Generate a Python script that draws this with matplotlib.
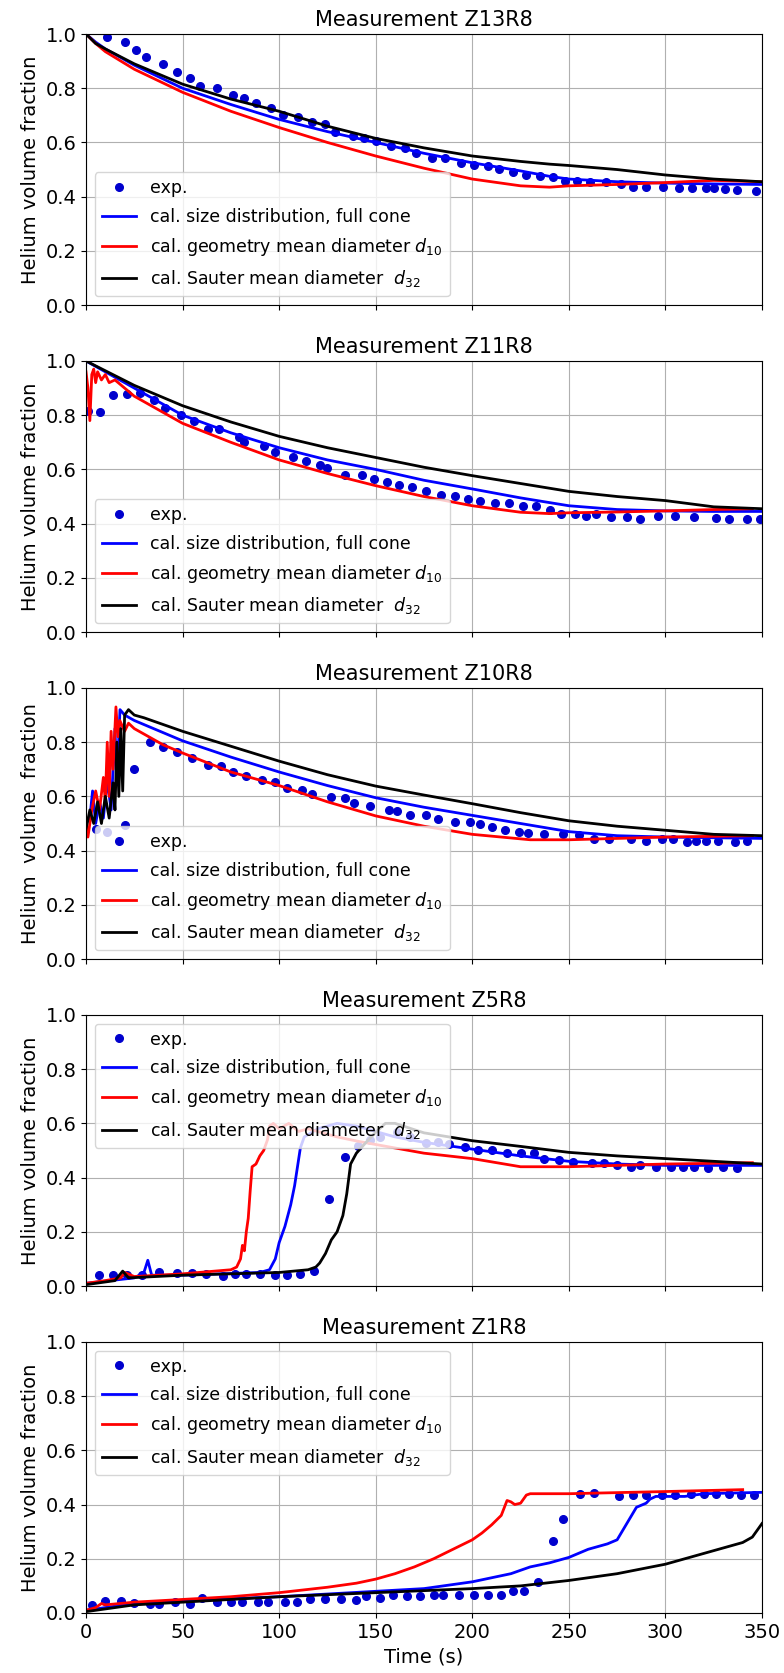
import numpy as np
import matplotlib
matplotlib.use("Agg")
import matplotlib.pyplot as plt

titles = ["Measurement Z13R8", "Measurement Z11R8", "Measurement Z10R8",
          "Measurement Z5R8", "Measurement Z1R8"]
ylabels = ["Helium volume fraction", "Helium volume fraction", "Helium  volume  fraction",
           "Helium volume fraction", "Helium volume fraction"]
legend_locs = ["lower left", "lower left", "lower left", "upper left", "upper left"]

# ---- Z13R8 ----
exp1_t = [11, 20, 26, 31, 40, 47, 54, 59, 68, 76, 82, 88, 96, 102, 110, 117, 124, 129, 138, 144,
          150, 158, 165, 171, 179, 186, 194, 201, 208, 214, 221, 228, 235, 242, 248, 254, 261, 269,
          277, 283, 290, 299, 307, 314, 321, 325, 331, 337, 347]
exp1_y = [0.99, 0.97, 0.94, 0.915, 0.89, 0.86, 0.836, 0.81, 0.80, 0.775, 0.765, 0.747, 0.728, 0.70,
          0.694, 0.677, 0.667, 0.64, 0.624, 0.618, 0.606, 0.588, 0.579, 0.56, 0.541, 0.541, 0.526,
          0.518, 0.514, 0.502, 0.49, 0.48, 0.477, 0.471, 0.459, 0.457, 0.455, 0.455, 0.447, 0.437,
          0.435, 0.437, 0.432, 0.432, 0.431, 0.431, 0.428, 0.426, 0.422]
t_cal1 = [0, 5, 10, 25, 50, 75, 100, 125, 150, 175, 200, 225, 240, 250, 275, 300, 325, 350]
blue1 = [1.0, 0.97, 0.945, 0.885, 0.80, 0.74, 0.685, 0.64, 0.60, 0.56, 0.525, 0.495, 0.475, 0.465,
         0.455, 0.45, 0.447, 0.445]
red1 = [1.0, 0.965, 0.935, 0.87, 0.785, 0.715, 0.655, 0.60, 0.55, 0.505, 0.465, 0.44, 0.435, 0.44,
        0.445, 0.452, 0.46, 0.455]
black1 = [1.0, 0.965, 0.945, 0.89, 0.815, 0.76, 0.715, 0.66, 0.615, 0.58, 0.55, 0.53, 0.52, 0.515,
          0.5, 0.48, 0.465, 0.455]

# ---- Z11R8 ----
exp2_t = [1, 7, 14, 21, 28, 35, 41, 49, 56, 63, 69, 79, 82, 92, 98, 107, 114, 121, 125, 134,
          143, 149, 156, 162, 169, 176, 184, 191, 198, 204, 212, 219, 226, 233, 240, 246, 253, 259,
          264, 272, 280, 287, 296, 305, 315, 326, 333, 342, 349]
exp2_y = [0.816, 0.81, 0.874, 0.88, 0.883, 0.855, 0.826, 0.80, 0.777, 0.748, 0.748, 0.718, 0.70,
          0.687, 0.663, 0.647, 0.632, 0.616, 0.604, 0.58, 0.579, 0.564, 0.552, 0.544, 0.534, 0.519,
          0.507, 0.503, 0.491, 0.482, 0.475, 0.475, 0.464, 0.464, 0.45, 0.436, 0.436, 0.43, 0.436,
          0.423, 0.423, 0.417, 0.427, 0.43, 0.423, 0.421, 0.417, 0.417, 0.417]
t_red2 = [0, 1, 2, 3, 4, 5, 6, 8, 10, 12, 15, 25, 50, 75, 100, 125, 150, 175, 200, 225, 240, 250,
          275, 300, 325, 345]
red2 = [0.96, 0.90, 0.78, 0.95, 0.97, 0.92, 0.96, 0.93, 0.95, 0.92, 0.93, 0.87, 0.77, 0.70, 0.635,
        0.585, 0.54, 0.50, 0.466, 0.442, 0.437, 0.44, 0.443, 0.447, 0.452, 0.455]
t_cal2 = [0, 25, 50, 75, 100, 125, 150, 175, 200, 225, 250, 275, 300, 325, 350]
blue2 = [1.0, 0.90, 0.80, 0.735, 0.68, 0.635, 0.60, 0.56, 0.528, 0.495, 0.466, 0.452, 0.447,
         0.445, 0.445]
black2 = [1.0, 0.91, 0.835, 0.775, 0.722, 0.68, 0.644, 0.608, 0.577, 0.548, 0.519, 0.50, 0.485,
          0.462, 0.455]

# ---- Z10R8 ----
exp3_t = [5, 11, 20, 25, 33, 40, 47, 55, 63, 70, 76, 83, 91, 98, 104, 112, 117, 127, 134, 139,
          147, 157, 161, 168, 176, 182, 191, 199, 204, 210, 217, 224, 229, 237, 247, 255, 263, 271,
          282, 290, 298, 304, 311, 316, 321, 327, 336, 342]
exp3_y = [0.48, 0.47, 0.494, 0.70, 0.80, 0.783, 0.764, 0.74, 0.714, 0.712, 0.69, 0.675, 0.66,
          0.653, 0.632, 0.622, 0.61, 0.599, 0.593, 0.577, 0.564, 0.548, 0.546, 0.531, 0.53, 0.515,
          0.507, 0.507, 0.50, 0.487, 0.476, 0.47, 0.466, 0.463, 0.46, 0.456, 0.442, 0.442, 0.442,
          0.436, 0.442, 0.442, 0.432, 0.436, 0.436, 0.436, 0.432, 0.436]
t_red3 = [0, 1, 3, 5, 7, 9, 10, 11, 12, 13, 14, 15.5, 16.5, 17.5, 20, 22, 25, 30, 40, 50, 75, 100,
          125, 150, 175, 200, 230, 250, 275, 300, 345]
red3 = [0.5, 0.45, 0.55, 0.62, 0.55, 0.67, 0.58, 0.80, 0.60, 0.84, 0.70, 0.93, 0.82, 0.88, 0.84,
        0.87, 0.85, 0.83, 0.79, 0.76, 0.69, 0.64, 0.58, 0.528, 0.49, 0.46, 0.44, 0.44, 0.445, 0.45,
        0.455]
t_blue3 = [0, 2, 3.4, 5, 7, 9, 11, 13, 15, 16, 17.6, 20, 25, 50, 75, 100, 125, 150, 175, 200, 225,
           250, 275, 300, 350]
blue3 = [0.5, 0.52, 0.62, 0.50, 0.58, 0.52, 0.66, 0.55, 0.85, 0.65, 0.92, 0.90, 0.88, 0.805, 0.745,
         0.69, 0.64, 0.595, 0.56, 0.53, 0.50, 0.47, 0.455, 0.45, 0.445]
t_black3 = [0, 2, 4, 6, 8, 10, 12, 14, 15, 16, 17, 18, 19, 20, 22, 25, 30, 50, 75, 100, 125, 150,
            175, 200, 225, 250, 275, 300, 325, 350]
black3 = [0.48, 0.55, 0.50, 0.58, 0.50, 0.60, 0.52, 0.65, 0.55, 0.80, 0.60, 0.85, 0.62, 0.90, 0.92,
          0.90, 0.89, 0.84, 0.785, 0.73, 0.68, 0.638, 0.605, 0.573, 0.54, 0.51, 0.49, 0.475, 0.46,
          0.455]

# ---- Z5R8 ----
exp4_t = [6.5, 14, 21, 29, 38, 47, 55, 62, 71, 77, 83, 90, 98, 104, 111, 118, 126, 134, 141, 147,
          152, 161, 168, 176, 182, 188, 196, 203, 210, 218, 225, 232, 237, 245, 252, 262, 268, 275,
          282, 287, 295, 303, 309, 315, 322, 330, 337]
exp4_y = [0.04, 0.04, 0.04, 0.04, 0.053, 0.047, 0.049, 0.043, 0.037, 0.043, 0.043, 0.045, 0.04,
          0.039, 0.045, 0.055, 0.32, 0.475, 0.518, 0.539, 0.55, 0.567, 0.55, 0.526, 0.53, 0.524,
          0.514, 0.502, 0.502, 0.49, 0.49, 0.49, 0.469, 0.465, 0.457, 0.455, 0.453, 0.447, 0.44,
          0.447, 0.44, 0.44, 0.438, 0.438, 0.437, 0.44, 0.437]
t_red4 = [0, 10, 18, 20, 25, 50, 75, 78, 80, 81, 82, 83, 84, 85, 86, 88, 90, 92, 94, 95, 97, 100,
          105, 110, 115, 120, 125, 130, 140, 150, 175, 200, 225, 250, 300, 345]
red4 = [0.01, 0.02, 0.03, 0.05, 0.035, 0.045, 0.06, 0.07, 0.10, 0.15, 0.13, 0.2, 0.25, 0.35, 0.44,
        0.45, 0.48, 0.50, 0.54, 0.59, 0.60, 0.58, 0.60, 0.57, 0.58, 0.57, 0.56, 0.55, 0.535, 0.522,
        0.49, 0.47, 0.44, 0.44, 0.45, 0.455]
t_blue4 = [0, 25, 30, 32, 34, 50, 90, 95, 98, 100, 103, 106, 108, 111, 113, 120, 130, 140, 150, 160,
           175, 200, 225, 250, 275, 300, 350]
blue4 = [0.01, 0.03, 0.05, 0.095, 0.04, 0.04, 0.05, 0.06, 0.1, 0.16, 0.22, 0.3, 0.37, 0.51, 0.55,
         0.58, 0.6, 0.59, 0.57, 0.55, 0.53, 0.505, 0.48, 0.46, 0.45, 0.445, 0.445]
t_black4 = [0, 15, 19, 22, 50, 100, 115, 119, 121, 124, 127, 130, 133, 135, 137, 140, 145, 149,
            155, 160, 175, 200, 225, 250, 275, 300, 325, 350]
black4 = [0.005, 0.02, 0.055, 0.03, 0.04, 0.05, 0.06, 0.07, 0.085, 0.12, 0.17, 0.2, 0.26, 0.34,
          0.45, 0.49, 0.53, 0.56, 0.6, 0.6, 0.565, 0.536, 0.515, 0.493, 0.48, 0.47, 0.46, 0.45]

# ---- Z1R8 ----
exp5_t = [3, 10, 18, 25, 33, 38, 46, 54, 60, 68, 75, 81, 89, 94, 103, 109, 116, 124, 132, 140,
          145, 152, 159, 166, 173, 180, 185, 193, 201, 208, 215, 221, 227, 234, 242, 247, 256, 263,
          276, 283, 290, 298, 305, 313, 320, 326, 333, 339, 346]
exp5_y = [0.028, 0.045, 0.045, 0.037, 0.034, 0.034, 0.039, 0.033, 0.055, 0.039, 0.039, 0.039,
          0.039, 0.039, 0.039, 0.039, 0.051, 0.051, 0.051, 0.049, 0.061, 0.055, 0.067, 0.061, 0.064,
          0.067, 0.067, 0.067, 0.067, 0.067, 0.067, 0.08, 0.08, 0.116, 0.267, 0.345, 0.44, 0.444,
          0.432, 0.435, 0.435, 0.435, 0.435, 0.438, 0.44, 0.44, 0.44, 0.435, 0.435]
t_red5 = [0, 5, 8, 10, 25, 50, 75, 100, 125, 140, 150, 160, 170, 180, 190, 200, 205, 210, 215, 218,
          220, 222, 225, 228, 230, 250, 300, 340]
red5 = [0.01, 0.02, 0.035, 0.03, 0.04, 0.05, 0.06, 0.075, 0.095, 0.11, 0.125, 0.145, 0.17, 0.2,
        0.235, 0.27, 0.295, 0.325, 0.36, 0.415, 0.41, 0.4, 0.405, 0.435, 0.44, 0.44, 0.448, 0.455]
t_blue5 = [0, 25, 50, 100, 150, 175, 200, 210, 220, 230, 240, 250, 260, 270, 275, 280, 285, 290,
           292, 295, 300, 310, 320, 350]
blue5 = [0.01, 0.035, 0.045, 0.06, 0.08, 0.09, 0.115, 0.13, 0.145, 0.17, 0.185, 0.205, 0.235, 0.255,
         0.27, 0.33, 0.39, 0.405, 0.42, 0.43, 0.43, 0.43, 0.44, 0.445]
t_black5 = [0, 25, 50, 100, 150, 200, 225, 250, 275, 300, 320, 340, 345, 350]
black5 = [0.005, 0.03, 0.04, 0.06, 0.075, 0.09, 0.1, 0.12, 0.145, 0.18, 0.22, 0.26, 0.28, 0.33]

panels = [
    (exp1_t, exp1_y, t_cal1, blue1, t_cal1, red1, t_cal1, black1),
    (exp2_t, exp2_y, t_cal2, blue2, t_red2, red2, t_cal2, black2),
    (exp3_t, exp3_y, t_blue3, blue3, t_red3, red3, t_black3, black3),
    (exp4_t, exp4_y, t_blue4, blue4, t_red4, red4, t_black4, black4),
    (exp5_t, exp5_y, t_blue5, blue5, t_red5, red5, t_black5, black5),
]

fig, axes = plt.subplots(5, 1, figsize=(7.84, 16.73), dpi=100, sharex=True)
plt.subplots_adjust(left=86/784, right=762/784, top=1-34/1673, bottom=1-1613/1673, hspace=0.206)

for i, ax in enumerate(axes):
    et, ey, tb, yb, tr, yr, tk, yk = panels[i]
    ax.plot(et, ey, "o", color="mediumblue", markersize=5.5, label="exp.")
    ax.plot(tb, yb, color="blue", lw=2, label="cal. size distribution, full cone")
    ax.plot(tr, yr, color="red", lw=2, label="cal. geometry mean diameter $d_{10}$")
    ax.plot(tk, yk, color="black", lw=2, label="cal. Sauter mean diameter  $d_{32}$")
    ax.set_xlim(0, 350)
    ax.set_ylim(0, 1)
    ax.set_yticks([0, 0.2, 0.4, 0.6, 0.8, 1.0])
    ax.set_xticks([0, 50, 100, 150, 200, 250, 300, 350])
    ax.grid(True)
    ax.tick_params(labelsize=14)
    ax.set_title(titles[i], fontsize=15)
    ax.set_ylabel(ylabels[i], fontsize=14)
    ax.legend(loc=legend_locs[i], fontsize=12.5, labelspacing=0.6)

axes[-1].set_xlabel("Time (s)", fontsize=14)

plt.savefig("out.png", dpi=100)
